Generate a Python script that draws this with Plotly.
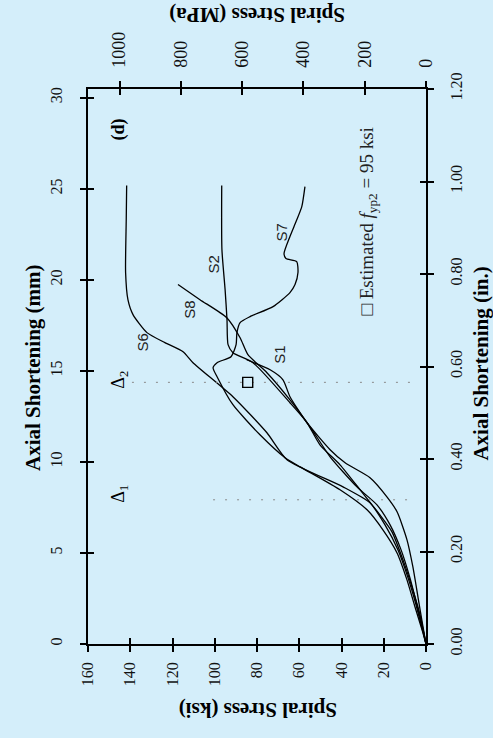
import plotly.graph_objects as go

# ---- data (stress in ksi, axial shortening in mm) ----
s6_ksi = [141.7, 141.9, 142.2, 141.1, 138.7, 132.1, 123.6, 115.0, 110.3, 91.4, 75.3, 65.8, 39.3, 26.5, 19.4, 13.3, 8.5, 4.7, 1.9, 0.0]
s6_mm = [25.18, 23.31, 20.40, 18.91, 18.09, 17.10, 16.55, 16.05, 15.45, 13.58, 11.60, 10.12, 8.63, 7.75, 6.54, 5.17, 3.63, 2.14, 0.88, 0.0]

s7_ksi = [57.3, 58.8, 61.5, 64.4, 67.2, 66.3, 61.2, 60.6, 62.0, 64.4, 72.4, 83.3, 88.0, 89.5, 89.9, 92.3, 98.9, 100.8, 98.9, 91.4, 78.6, 66.7, 59.6, 40.7, 27.9, 20.4, 13.7, 9.0, 5.2, 1.4, 0.0]
s7_mm = [25.12, 24.02, 23.20, 22.38, 21.44, 21.17, 21.00, 20.40, 19.74, 19.30, 18.53, 17.98, 17.65, 17.10, 16.44, 15.78, 15.45, 15.17, 14.68, 13.14, 11.49, 10.23, 9.73, 8.47, 7.37, 6.27, 5.00, 3.52, 2.03, 0.60, 0.0]

s2_ksi = [96.7, 96.6, 95.1, 94.2, 93.7, 91.4, 81.9, 64.4, 56.3, 50.2, 40.7, 31.2, 21.8, 16.1, 10.9, 6.2, 2.8, 0.0]
s2_mm = [25.18, 21.66, 19.46, 17.81, 16.44, 16.00, 15.45, 13.25, 12.15, 10.94, 9.84, 8.47, 7.09, 6.16, 4.62, 2.97, 1.59, 0.0]

s8_ksi = [117.4, 107.0, 94.3, 88.0, 84.3, 75.3, 64.4, 54.9, 45.4, 32.7, 23.2, 17.0, 11.8, 7.6, 4.3, 1.4, 0.0]
s8_mm = [19.74, 18.91, 17.92, 16.82, 15.89, 14.90, 13.41, 11.93, 10.28, 8.63, 7.64, 6.54, 5.17, 3.63, 2.14, 0.77, 0.0]

s1_ksi = [84.9, 73.8, 67.7, 64.4, 56.3, 45.4, 38.3, 26.5, 18.5, 13.7, 9.0, 6.2, 3.8, 1.4, 0.0]
s1_mm = [15.61, 15.06, 14.51, 13.58, 12.15, 10.67, 9.95, 9.13, 8.08, 7.26, 5.72, 4.23, 2.58, 0.93, 0.0]

curve_names = ["S6", "S7", "S2", "S8", "S1"]
label_ksi = [134.0, 68.2, 100.8, 111.7, 69.1]
label_mm = [16.55, 22.6, 20.84, 18.36, 15.89]

est_ksi = [84.4]
est_mm = [14.37]

delta_names = ["Δ<sub>1</sub>", "Δ<sub>2</sub>"]
delta_mm = [7.92, 14.37]
delta_from_ksi = [100.8, 139.2]
delta_to_ksi = [7.6, 4.3]
delta_label_ksi = [144.9, 144.9]
delta_label_mm = [8.25, 14.51]

ksi_ticks = [0, 20, 40, 60, 80, 100, 120, 140, 160]
mpa_ticks = [0, 200, 400, 600, 800, 1000]
mm_ticks = [0, 5, 10, 15, 20, 25, 30]
in_ticks = [0.0, 0.2, 0.4, 0.6, 0.8, 1.0, 1.2]

KSI_MAX = 160
MM_MAX = 30.48
MPA_PER_KSI = 6.89476

BG = "#d4eefa"
SERIF = "Liberation Serif"

fig = go.Figure()

series = [(s6_ksi, s6_mm), (s7_ksi, s7_mm), (s2_ksi, s2_mm), (s8_ksi, s8_mm), (s1_ksi, s1_mm)]
for name, (xs, ys) in zip(curve_names, series):
    fig.add_trace(go.Scatter(x=xs, y=ys, mode="lines", name=name,
                             line=dict(color="black", width=1.3, shape="spline", smoothing=0.6),
                             showlegend=False, hoverinfo="skip"))

for m, a, b in zip(delta_mm, delta_from_ksi, delta_to_ksi):
    fig.add_trace(go.Scatter(x=[a, b], y=[m, m], mode="lines",
                             line=dict(color="#8a8a8a", width=1, dash="2px,10px"),
                             showlegend=False, hoverinfo="skip"))

fig.add_trace(go.Scatter(x=est_ksi, y=est_mm, mode="markers",
                         marker=dict(symbol="square-open", size=10, color="black", line=dict(width=1.4)),
                         showlegend=False, hoverinfo="skip"))

# empty traces to register overlay subplots
for xa, ya in [("x2", "y2"), ("x3", "y3"), ("x4", "y4")]:
    fig.add_trace(go.Scatter(x=[None], y=[None], xaxis=xa, yaxis=ya, showlegend=False, hoverinfo="skip"))

tickfont = dict(family=SERIF, size=16, color="#111")
common = dict(showgrid=False, zeroline=False, showline=True, linecolor="black", linewidth=1.5,
              tickcolor="black", tickwidth=1.5, ticklen=6, tickangle=-90, tickfont=tickfont)
top_common = dict(common)
top_common["tickfont"] = dict(family=SERIF, size=18, color="#111")

fig.update_layout(
    width=493, height=738, autosize=False,
    margin=dict(l=88, r=67, t=89, b=94),
    paper_bgcolor=BG, plot_bgcolor=BG,
    xaxis=dict(range=[KSI_MAX, 0], tickmode="array", tickvals=ksi_ticks, ticks="outside",
               ticklabelstandoff=4, **common),
    yaxis=dict(range=[0, MM_MAX], tickmode="array", tickvals=mm_ticks, ticks="outside",
               ticklabelstandoff=12, **common),
    xaxis2=dict(range=[KSI_MAX * MPA_PER_KSI, 0], tickmode="array", tickvals=mpa_ticks, ticks="outside",
                overlaying="x", side="top", anchor="y2", ticklabelstandoff=10, **top_common),
    yaxis2=dict(range=[0, MM_MAX / 25.4], tickmode="array", tickvals=in_ticks, ticktext=[f"{v:.2f}" for v in in_ticks],
                ticks="outside", overlaying="y", side="right", anchor="x2", ticklabelstandoff=9, **common),
    xaxis3=dict(range=[KSI_MAX, 0], tickmode="array", tickvals=ksi_ticks, ticks="inside",
                showticklabels=False, overlaying="x", side="bottom", anchor="y3", **common),
    yaxis3=dict(range=[0, MM_MAX], tickmode="array", tickvals=mm_ticks, ticks="inside",
                showticklabels=False, overlaying="y", side="left", anchor="x3", **common),
    xaxis4=dict(range=[KSI_MAX * MPA_PER_KSI, 0], tickmode="array", tickvals=mpa_ticks, ticks="inside",
                showticklabels=False, overlaying="x", side="top", anchor="y4", **common),
    yaxis4=dict(range=[0, MM_MAX / 25.4], tickmode="array", tickvals=in_ticks, ticks="inside",
                showticklabels=False, overlaying="y", side="right", anchor="x4", **common),
)

title_font = dict(family=SERIF, size=21, color="black")
C = dict(xanchor="center", yanchor="middle", showarrow=False)
ann = []
ann.append(dict(text="<b>Axial Shortening (mm)</b>", xref="paper", yref="paper", x=-0.163, y=0.499,
                textangle=-90, font=title_font, **C))
ann.append(dict(text="<b>Axial Shortening (in.)</b>", xref="paper", yref="paper", x=1.164, y=0.506,
                textangle=-90, font=title_font, **C))
ann.append(dict(text="<b>Spiral Stress (ksi)</b>", xref="paper", yref="paper", x=0.503, y=-0.119,
                textangle=180, font=title_font, **C))
ann.append(dict(text="<b>Spiral Stress (MPa)</b>", xref="paper", yref="paper", x=0.5, y=1.132,
                textangle=180, font=title_font, **C))
ann.append(dict(text="<b>(d)</b>", x=145.8, y=28.26, textangle=-90,
                font=dict(family=SERIF, size=18, color="black"), **C))
for t, xk, ym in zip(delta_names, delta_label_ksi, delta_label_mm):
    ann.append(dict(text=t, x=xk, y=ym, textangle=-90,
                    font=dict(family=SERIF, size=18, color="black"), **C))
for t, xk, ym in zip(curve_names, label_ksi, label_mm):
    ann.append(dict(text=t, x=xk, y=ym, textangle=-90,
                    font=dict(family="Liberation Sans", size=15, color="#222"), **C))
ann.append(dict(text="□ Estimated <i>f</i><sub>yp2</sub> = 95 ksi", x=27.5, y=23.2, textangle=-90,
                font=dict(family=SERIF, size=19, color="#222"), **C))
fig.update_layout(annotations=ann)

fig.write_html("out.html", config={"displayModeBar": False},
               post_script="document.body.style.margin='0';")
